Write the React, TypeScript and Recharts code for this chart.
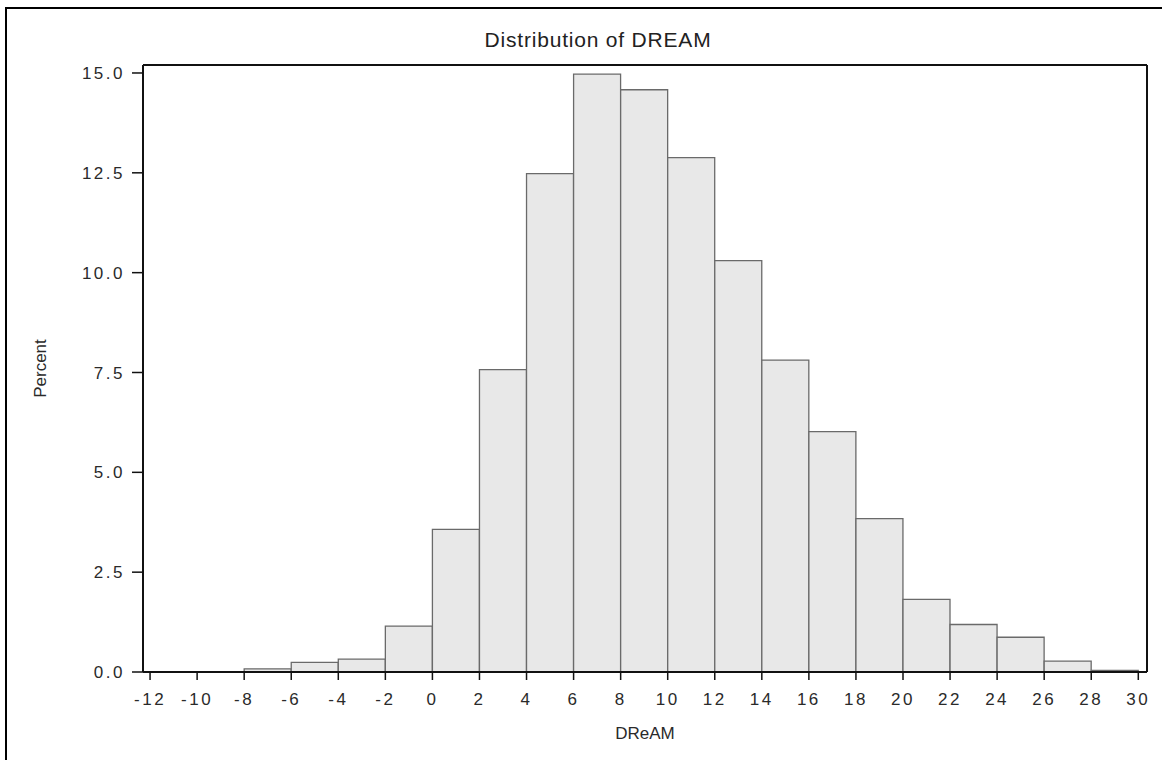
import { BarChart, Bar, XAxis, YAxis, ReferenceLine } from 'recharts'

// DREAM histogram, bins of width 2 (bin midpoints)
const binMids = [-11, -9, -7, -5, -3, -1, 1, 3, 5, 7, 9, 11, 13, 15, 17, 19, 21, 23, 25, 27, 29]
const percents = [
  0, 0, 0.08, 0.24, 0.32, 1.15, 3.57, 7.57, 12.48, 14.97, 14.58, 12.88, 10.3, 7.81, 6.02, 3.84,
  1.82, 1.19, 0.87, 0.27, 0.04,
]
const xTicks = [-12, -10, -8, -6, -4, -2, 0, 2, 4, 6, 8, 10, 12, 14, 16, 18, 20, 22, 24, 26, 28, 30]
const yTicks = [0, 2.5, 5, 7.5, 10, 12.5, 15]

const data = binMids.map((mid, i) => ({ mid, percent: percents[i] }))

const FONT = '"Liberation Sans", Arial, Helvetica, sans-serif'
const AXIS = '#111'
const X_DOMAIN: [number, number] = [-12.3, 30.37]
const Y_DOMAIN: [number, number] = [0, 15.2]

const tickStyle = { fontSize: 17, fill: '#2a2a2a', fontFamily: FONT }

export default function App() {
  return (
    <div
      style={{
        position: 'absolute',
        left: 0,
        top: 0,
        width: 1162,
        height: 760,
        overflow: 'hidden',
        background: '#fff',
      }}
    >
      <style>{`.recharts-cartesian-axis-tick-value { letter-spacing: 2.5px; }`}</style>
      {/* outer graph frame, runs off the right and bottom edges */}
      <div
        style={{
          position: 'absolute',
          left: 5,
          top: 7,
          width: 1300,
          height: 900,
          borderTop: '2px solid #000',
          borderLeft: '2px solid #000',
        }}
      />
      <div style={{ position: 'absolute', left: 0, top: 0 }}>
        <BarChart
          width={1162}
          height={760}
          data={data}
          margin={{ top: 65, right: 15, bottom: 0, left: 0 }}
          barCategoryGap={0}
          barGap={0}
        >
          <text
            x={598}
            y={47}
            textAnchor="middle"
            fontSize={21}
            fill="#222"
            fontFamily={FONT}
            letterSpacing={0.8}
          >
            Distribution of DREAM
          </text>
          <XAxis
            dataKey="mid"
            type="number"
            domain={X_DOMAIN}
            allowDataOverflow
            ticks={xTicks}
            interval={0}
            height={88}
            tickSize={8}
            tickMargin={13}
            tick={tickStyle}
            axisLine={{ stroke: AXIS, strokeWidth: 2 }}
            tickLine={{ stroke: AXIS, strokeWidth: 1.5 }}
            label={({ viewBox }: any) => (
              <text
                x={viewBox.x + viewBox.width / 2}
                y={viewBox.y + 67}
                textAnchor="middle"
                fontSize={17}
                fill="#2a2a2a"
                fontFamily={FONT}
              >
                DReAM
              </text>
            )}
          />
          <YAxis
            type="number"
            domain={Y_DOMAIN}
            allowDataOverflow
            ticks={yTicks}
            interval={0}
            width={143}
            tickSize={11}
            tickMargin={7}
            tick={tickStyle}
            tickFormatter={(v: number) => v.toFixed(1)}
            axisLine={{ stroke: AXIS, strokeWidth: 2 }}
            tickLine={{ stroke: AXIS, strokeWidth: 1.5 }}
            label={({ viewBox }: any) => {
              const cx = 46
              const cy = viewBox.y + viewBox.height / 2
              return (
                <text
                  x={cx}
                  y={cy}
                  transform={`rotate(-90 ${cx} ${cy})`}
                  textAnchor="middle"
                  fontSize={17}
                  fill="#2a2a2a"
                  fontFamily={FONT}
                >
                  Percent
                </text>
              )
            }}
          />
          <Bar
            dataKey="percent"
            fill="#e8e8e8"
            stroke="#6a6a6a"
            strokeWidth={1.3}
            isAnimationActive={false}
          />
          {/* closing edges of the plot frame */}
          <ReferenceLine y={Y_DOMAIN[1]} stroke={AXIS} strokeWidth={2} />
          <ReferenceLine x={X_DOMAIN[1]} stroke={AXIS} strokeWidth={2} />
        </BarChart>
      </div>
    </div>
  )
}
